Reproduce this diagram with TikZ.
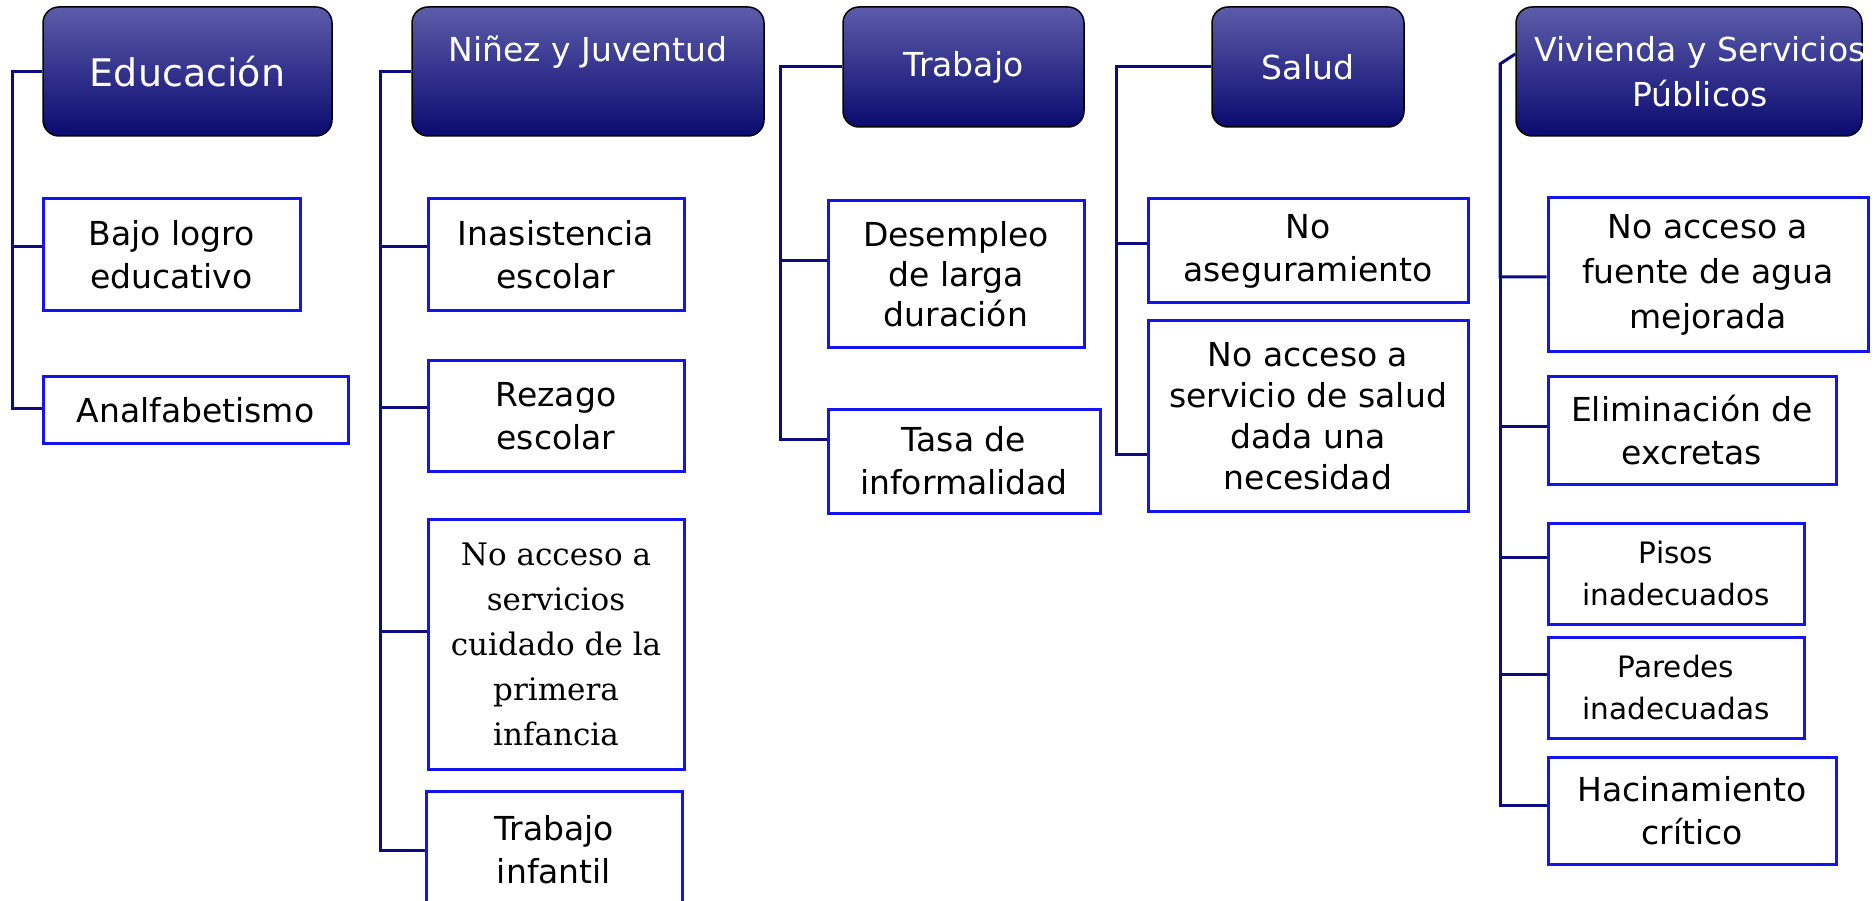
\documentclass[tikz,border=0pt]{standalone}
\usepackage{fontspec}
\setmainfont{DejaVu Sans}
\newfontfamily\serifbox{DejaVu Serif}

\definecolor{hdrtop}{RGB}{92,92,170}
\definecolor{hdrmid}{RGB}{58,58,150}
\definecolor{hdrbot}{RGB}{10,10,112}
\definecolor{boxblue}{RGB}{20,20,240}
\definecolor{linknavy}{RGB}{12,12,130}

\tikzset{
  header/.style={draw=black, line width=1.5pt, rounded corners=16pt,
    top color=hdrtop, middle color=hdrmid, bottom color=hdrbot,
    text=white, align=center, inner sep=0pt, font=\fontsize{33}{45}\selectfont},
  item/.style={draw=boxblue, line width=3pt, fill=white, align=center,
    inner sep=0pt, font=\fontsize{33}{43}\selectfont},
  link/.style={draw=linknavy, line width=3pt},
}

\begin{document}
\begin{tikzpicture}[x=1pt, y=-1pt]
\useasboundingbox (0,0) rectangle (1875,901);

% headers
\node (edu) at (187.5,71.5)[header, minimum width=289pt, minimum height=129pt, font=\fontsize{38}{45}\selectfont] {Educación};
\node (nin) at (588,71.5)[header, minimum width=352pt, minimum height=129pt] {Niñez y Juventud\\\mbox{}};
\node (trab) at (963.5,67)[header, minimum width=241pt, minimum height=120pt] {Trabajo};
\node (sal) at (1308,67)[header, minimum width=192pt, minimum height=120pt] {Salud};
\node (viv) at (1689,71.5)[header, minimum width=346pt, minimum height=129pt] {\makebox[346pt]{\hspace*{22pt}Vivienda y Servicios}\\\makebox[346pt]{\hspace*{22pt}Públicos}};

% Educacion
\node (bajo) at (171.5,255)[item, minimum width=257pt, minimum height=112pt] {Bajo logro\\educativo};
\node (analf) at (195.5,410)[item, minimum width=305pt, minimum height=66pt] {Analfabetismo};

% Ninez y Juventud
\node (inas) at (556,255)[item, minimum width=256pt, minimum height=112pt] {Inasistencia\\escolar};
\node (rez) at (556,416)[item, minimum width=256pt, minimum height=110pt] {Rezago\\escolar};
\node (serv) at (556,644)[item, minimum width=256pt, minimum height=250pt, font={\serifbox\fontsize{31}{45}\selectfont}] {No acceso a\\servicios\\cuidado de la\\primera\\infancia};
\node (trabinf) at (554,850)[item, minimum width=256pt, minimum height=118pt] {Trabajo\\infantil};

% Trabajo
\node (desemp) at (956,274.5)[item, minimum width=256pt, minimum height=147pt, font=\fontsize{33}{40}\selectfont] {Desempleo\\de larga\\duración};
\node (tasa) at (964,461)[item, minimum width=272pt, minimum height=104pt] {Tasa de\\informalidad};

% Salud
\node (noaseg) at (1308,251)[item, minimum width=320pt, minimum height=104pt] {No\\aseguramiento};
\node (nosalud) at (1308,416)[item, minimum width=320pt, minimum height=190pt, font=\fontsize{33}{41}\selectfont] {No acceso a\\servicio de salud\\dada una\\necesidad};

% Vivienda y Servicios Publicos
\node (fuente) at (1708,275)[item, minimum width=320pt, minimum height=154pt, font=\fontsize{33}{45}\selectfont] {No acceso a\\fuente de agua\\mejorada};
\node (elim) at (1692,430.5)[item, minimum width=288pt, minimum height=107pt] {Eliminación de\\excretas};
\node (pisos) at (1676,573.5)[item, minimum width=256pt, minimum height=101pt, font=\fontsize{29.5}{42}\selectfont] {Pisos\\inadecuados};
\node (paredes) at (1676,687.5)[item, minimum width=256pt, minimum height=101pt, font=\fontsize{29.5}{42}\selectfont] {Paredes\\inadecuadas};
\node (hacin) at (1692,810.5)[item, minimum width=288pt, minimum height=107pt] {Hacinamiento\\crítico};

% connectors
\coordinate (eduS) at (12,71.5);
\draw[link] (edu.west) -- (eduS) |- ([yshift=8pt]bajo.west);
\draw[link] (eduS) |- ([yshift=2pt]analf.west);

\coordinate (ninS) at (380,71.5);
\draw[link] (nin.west) -- (ninS) |- ([yshift=8pt]inas.west);
\draw[link] (ninS) |- ([yshift=9pt]rez.west);
\draw[link] (ninS) |- ([yshift=13pt]serv.west);
\draw[link] (ninS) |- (trabinf.west);

\coordinate (trabS) at (780,67);
\draw[link] (trab.west) -- (trabS) |- ([yshift=13.5pt]desemp.west);
\draw[link] (trabS) |- ([yshift=22pt]tasa.west);

\coordinate (salS) at (1116,67);
\draw[link] (sal.west) -- (salS) |- ([yshift=7pt]noaseg.west);
\draw[link] (salS) |- ([yshift=-38pt]nosalud.west);

\coordinate (vivS) at (1500,64);
\draw[link] ([yshift=17.5pt]viv.west) -- (vivS) |- ([yshift=-2pt]fuente.west);
\draw[link] (vivS) |- ([yshift=4.5pt]elim.west);
\draw[link] (vivS) |- ([yshift=16.5pt]pisos.west);
\draw[link] (vivS) |- ([yshift=13.5pt]paredes.west);
\draw[link] (vivS) |- ([yshift=5.5pt]hacin.west);
\end{tikzpicture}
\end{document}
